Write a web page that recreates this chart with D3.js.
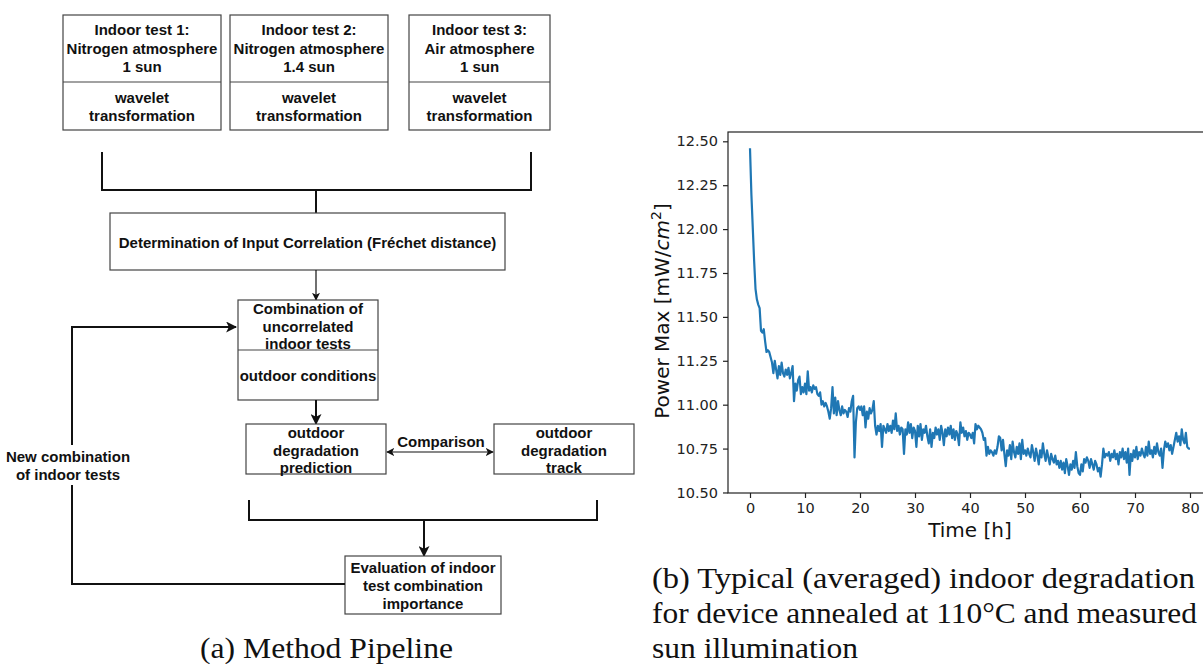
<!DOCTYPE html>
<html>
<head>
<meta charset="utf-8">
<script src="https://cdn.jsdelivr.net/npm/d3@7"></script>
<style>
  body { margin: 0; background: #fff; }
  svg { display: block; }
</style>
</head>
<body>
<svg id="fig" width="1203" height="664"></svg>
<script>
// --- chart data ---
const timeStep = 0.25; // hours between samples
const powerMax = [
  12.46, 12.20, 12.01, 11.82, 11.66, 11.60, 11.57, 11.55, 11.42, 11.41, 11.43, 11.36,
  11.30, 11.31, 11.30, 11.27, 11.24, 11.18, 11.25, 11.20, 11.15, 11.22, 11.17, 11.24,
  11.18, 11.16, 11.20, 11.17, 11.21, 11.15, 11.18, 11.22, 11.02, 11.12, 11.08, 11.14,
  11.16, 11.06, 11.10, 11.07, 11.12, 11.06, 11.19, 11.08, 11.10, 11.07, 11.11, 11.09,
  11.10, 11.06, 11.05, 11.07, 11.00, 11.02, 10.99, 11.01, 10.99, 10.96, 10.92, 10.98,
  11.10, 10.95, 11.04, 10.94, 11.02, 10.97, 10.94, 10.99, 10.95, 10.97, 10.96, 10.93,
  10.98, 10.96, 11.02, 11.05, 10.70, 10.90, 10.98, 10.99, 10.97, 10.99, 10.94, 10.99,
  10.87, 10.96, 10.92, 10.98, 10.95, 10.97, 11.02, 10.88, 10.83, 10.88, 10.85, 10.89,
  10.76, 10.88, 10.86, 10.84, 10.89, 10.85, 10.88, 10.84, 10.91, 10.86, 10.95, 10.85,
  10.88, 10.83, 10.87, 10.86, 10.72, 10.86, 10.83, 10.90, 10.84, 10.89, 10.81, 10.87,
  10.85, 10.76, 10.88, 10.82, 10.89, 10.80, 10.86, 10.84, 10.88, 10.82, 10.78, 10.86,
  10.76, 10.84, 10.81, 10.87, 10.83, 10.86, 10.80, 10.88, 10.84, 10.77, 10.86, 10.82,
  10.87, 10.83, 10.88, 10.81, 10.86, 10.80, 10.85, 10.83, 10.77, 10.90, 10.84, 10.87,
  10.82, 10.85, 10.80, 10.84, 10.83, 10.81, 10.84, 10.78, 10.89, 10.86, 10.88, 10.87,
  10.86, 10.84, 10.80, 10.81, 10.71, 10.76, 10.72, 10.74, 10.73, 10.71, 10.74, 10.72,
  10.76, 10.82, 10.81, 10.74, 10.80, 10.72, 10.65, 10.74, 10.71, 10.77, 10.69, 10.79,
  10.73, 10.70, 10.76, 10.72, 10.78, 10.69, 10.80, 10.72, 10.74, 10.71, 10.75, 10.72,
  10.70, 10.77, 10.73, 10.68, 10.75, 10.71, 10.66, 10.74, 10.70, 10.78, 10.72, 10.68,
  10.74, 10.70, 10.66, 10.72, 10.69, 10.67, 10.71, 10.66, 10.68, 10.64, 10.68, 10.63,
  10.67, 10.61, 10.69, 10.65, 10.60, 10.66, 10.63, 10.68, 10.64, 10.73, 10.65, 10.61,
  10.60, 10.66, 10.62, 10.69, 10.67, 10.70, 10.68, 10.64, 10.69, 10.66, 10.63, 10.68,
  10.66, 10.62, 10.64, 10.59, 10.66, 10.75, 10.70, 10.72, 10.71, 10.73, 10.68, 10.72,
  10.70, 10.74, 10.69, 10.72, 10.66, 10.73, 10.70, 10.75, 10.69, 10.73, 10.67, 10.75,
  10.60, 10.72, 10.68, 10.74, 10.70, 10.76, 10.69, 10.73, 10.71, 10.75, 10.72, 10.70,
  10.76, 10.71, 10.79, 10.72, 10.74, 10.70, 10.76, 10.72, 10.78, 10.73, 10.71, 10.75,
  10.64, 10.74, 10.79, 10.76, 10.78, 10.74, 10.77, 10.72, 10.76, 10.80, 10.84, 10.79,
  10.82, 10.77, 10.86, 10.80, 10.78, 10.84, 10.76, 10.75, 10.75
];
const xTicks = [0, 10, 20, 30, 40, 50, 60, 70, 80];
const yTicks = [10.50, 10.75, 11.00, 11.25, 11.50, 11.75, 12.00, 12.25, 12.50];

const svg = d3.select('#fig');
const defs = svg.append('defs');

// ---------------- (b) line chart ----------------
const plot = { left: 728, right: 1212, top: 132, bottom: 493 };
const x = d3.scaleLinear().domain([-4, 84]).range([plot.left, plot.right]);
const y = d3.scaleLinear().domain([10.497, 12.553]).range([plot.bottom, plot.top]);

const chart = svg.append('g').attr('font-family', '"DejaVu Sans", sans-serif');

chart.append('path')
  .datum(powerMax.map((v, i) => [i * timeStep, v]))
  .attr('fill', 'none')
  .attr('stroke', '#1f77b4')
  .attr('stroke-width', 2.2)
  .attr('stroke-linejoin', 'round')
  .attr('d', d3.line().x(d => x(d[0])).y(d => y(d[1])));

// spines
chart.append('rect')
  .attr('x', plot.left).attr('y', plot.top)
  .attr('width', plot.right - plot.left).attr('height', plot.bottom - plot.top)
  .attr('fill', 'none').attr('stroke', '#222').attr('stroke-width', 1.2);

const gx = chart.append('g')
  .attr('transform', `translate(0,${plot.bottom})`)
  .call(d3.axisBottom(x).tickValues(xTicks).tickFormat(d3.format('d')).tickSize(5).tickPadding(5));
const gy = chart.append('g')
  .attr('transform', `translate(${plot.left},0)`)
  .call(d3.axisLeft(y).tickValues(yTicks).tickFormat(d3.format('.2f')).tickSize(5).tickPadding(5));
[gx, gy].forEach(g => {
  g.select('.domain').remove();
  g.selectAll('.tick line').attr('stroke', '#222').attr('stroke-width', 1.2);
  g.selectAll('.tick text').attr('font-family', '"DejaVu Sans", sans-serif').attr('font-size', 14.5).attr('fill', '#222');
});

chart.append('text')
  .attr('x', 970).attr('y', 537)
  .attr('text-anchor', 'middle').attr('font-size', 20).attr('fill', '#111')
  .text('Time [h]');

const ylab = chart.append('text')
  .attr('transform', 'translate(669,311) rotate(-90)')
  .attr('text-anchor', 'middle').attr('font-size', 20).attr('fill', '#111');
ylab.append('tspan').text('Power Max [mW/');
ylab.append('tspan').attr('font-style', 'italic').text('cm');
ylab.append('tspan').attr('font-size', 14).attr('dy', -8).text('2');
ylab.append('tspan').attr('dy', 8).text(']');

// ---------------- (a) method pipeline ----------------
const fc = svg.append('g')
  .attr('font-family', '"Liberation Sans", Arial, sans-serif')
  .attr('font-weight', 'bold')
  .attr('font-size', 15)
  .attr('fill', '#111');

function arrowMarker(id, size) {
  defs.append('marker')
    .attr('id', id)
    .attr('viewBox', '0 0 10 10')
    .attr('refX', 9).attr('refY', 5)
    .attr('markerWidth', size).attr('markerHeight', size)
    .attr('markerUnits', 'userSpaceOnUse')
    .attr('orient', 'auto-start-reverse')
    .append('path').attr('d', 'M0,0 L10,5 L0,10 L2.5,5 Z').attr('fill', '#111');
}
arrowMarker('arrBig', 11);
arrowMarker('arrSmall', 8);

function box(x0, y0, x1, y1) {
  fc.append('rect')
    .attr('x', x0).attr('y', y0).attr('width', x1 - x0).attr('height', y1 - y0)
    .attr('fill', '#fff').attr('stroke', '#444').attr('stroke-width', 1.2);
}
function hline(x0, x1, yy) {
  fc.append('line').attr('x1', x0).attr('x2', x1).attr('y1', yy).attr('y2', yy)
    .attr('stroke', '#444').attr('stroke-width', 1.2);
}
function lines(cx, ys, texts) {
  texts.forEach((t, i) => {
    fc.append('text').attr('x', cx).attr('y', ys[i]).attr('text-anchor', 'middle')
      .attr('dominant-baseline', 'central').text(t);
  });
}
function poly(points, width, marker) {
  const p = fc.append('path')
    .attr('d', d3.line()(points))
    .attr('fill', 'none').attr('stroke', '#111').attr('stroke-width', width);
  if (marker) p.attr('marker-end', `url(#${marker})`);
  return p;
}

// top three indoor tests
const tests = [
  { x0: 63, x1: 221, head: ['Indoor test 1:', 'Nitrogen atmosphere', '1 sun'] },
  { x0: 230, x1: 388, head: ['Indoor test 2:', 'Nitrogen atmosphere', '1.4 sun'] },
  { x0: 409, x1: 550, head: ['Indoor test 3:', 'Air atmosphere', '1 sun'] }
];
tests.forEach(t => {
  box(t.x0, 15, t.x1, 130);
  hline(t.x0, t.x1, 82);
  const cx = (t.x0 + t.x1) / 2;
  lines(cx, [29, 48, 66], t.head);
  lines(cx, [97, 115], ['wavelet', 'transformation']);
});

// bracket joining the tests
poly([[102, 152], [102, 190], [531, 190], [531, 152]], 2);
poly([[316, 190], [316, 213]], 2);

box(110, 213, 505, 270);
lines(307.5, [242], ['Determination of Input Correlation (Fréchet distance)']);

poly([[316, 270], [316, 300]], 1.2, 'arrSmall');

box(238, 300, 378, 400);
hline(238, 378, 350);
lines(308, [308, 326, 343], ['Combination of', 'uncorrelated', 'indoor tests']);
lines(308, [375], ['outdoor conditions']);

poly([[316, 400], [316, 424]], 2, 'arrBig');

box(246, 424, 386, 474);
lines(316, [432, 450, 467], ['outdoor', 'degradation', 'prediction']);
box(494, 424, 634, 474);
lines(564, [432, 450, 467], ['outdoor', 'degradation', 'track']);

poly([[387, 452], [493, 452]], 1.2, 'arrSmall').attr('marker-start', 'url(#arrSmall)');
lines(441, [441], ['Comparison']);

poly([[249, 500], [249, 520], [597, 520], [597, 500]], 2);
poly([[424, 520], [424, 556]], 2, 'arrBig');

box(345, 556, 501, 614);
lines(423, [567, 585, 603], ['Evaluation of indoor', 'test combination', 'importance']);

// feedback loop
poly([[345, 584], [72, 584], [72, 327], [236, 327]], 2, 'arrBig');
fc.append('rect').attr('x', 6).attr('y', 445).attr('width', 128).attr('height', 40).attr('fill', '#fff');
lines(68, [456, 474], ['New combination', 'of indoor tests']);

// ---------------- captions ----------------
const cap = svg.append('g')
  .attr('font-family', '"Liberation Serif", "Times New Roman", serif')
  .attr('font-size', 29).attr('fill', '#111');
cap.append('text').attr('x', 200).attr('y', 658)
  .attr('textLength', 253).attr('lengthAdjust', 'spacingAndGlyphs')
  .text('(a) Method Pipeline');
const capB = [
  { t: '(b) Typical (averaged) indoor degradation', w: 543 },
  { t: 'for device annealed at 110°C and measured', w: 545 },
  { t: 'sun illumination', w: 206 }
];
capB.forEach((c, i) => {
  cap.append('text').attr('x', 652).attr('y', 588 + i * 35)
    .attr('textLength', c.w).attr('lengthAdjust', 'spacingAndGlyphs')
    .text(c.t);
});
</script>
</body>
</html>
